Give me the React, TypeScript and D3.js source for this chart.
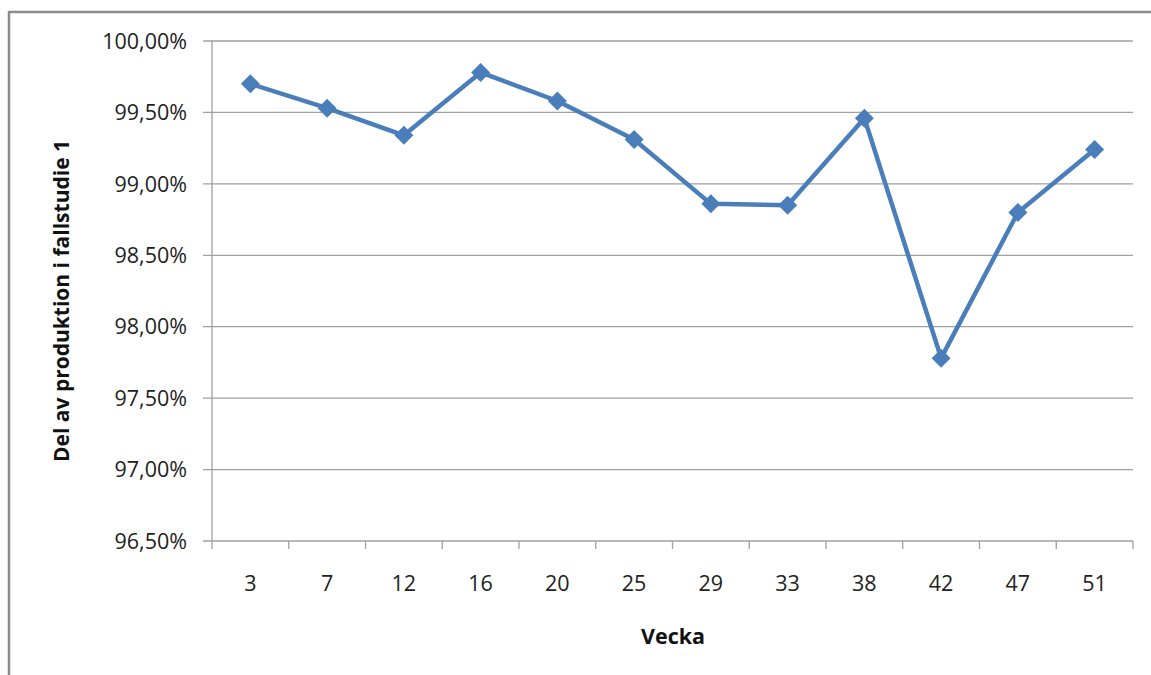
import React from "react";
import * as d3 from "d3";

const weeks = ["3", "7", "12", "16", "20", "25", "29", "33", "38", "42", "47", "51"];
const shares = [99.70, 99.53, 99.34, 99.78, 99.58, 99.31, 98.86, 98.85, 99.46, 97.78, 98.80, 99.24];
const yTicks = [96.5, 97.0, 97.5, 98.0, 98.5, 99.0, 99.5, 100.0];

const W = 1151, H = 675;
const left = 212, right = 1133, top = 41, bottom = 541;
const FONT = "'Open Sans', 'Noto Sans', sans-serif";

export default function App() {
  const x = d3.scaleBand<string>().domain(weeks).range([left, right]);
  const y = d3.scaleLinear().domain([96.5, 100]).range([bottom, top]);
  const line = d3.line<number>()
    .x((_, i) => (x(weeks[i]) as number) + x.bandwidth() / 2)
    .y((d) => y(d));
  const fmt = (v: number) => v.toFixed(2).replace(".", ",") + "%";
  const diamond = d3.symbol().type(d3.symbolDiamond2).size(230)();
  const tickXs = weeks.map((w) => x(w) as number).concat([right]);
  return (
    <svg width={W} height={H} style={{ position: "absolute", left: 0, top: 0 }}>
      <rect x={0} y={0} width={W} height={H} fill="#fff" />
      <path d={`M9,${H} L9,12 L${W},12`} fill="none" stroke="#8a8a8a" strokeWidth={2.5} />
      {yTicks.map((t) => (
        <g key={t}>
          <line x1={203} x2={right} y1={y(t)} y2={y(t)} stroke="#a0a0a0" strokeWidth={1.3} />
          <text x={187} y={y(t)} dy="0.36em" textAnchor="end" fontFamily={FONT} fontSize={21.5} fill="#222">
            {fmt(t)}
          </text>
        </g>
      ))}
      <line x1={left} x2={left} y1={top} y2={bottom} stroke="#a0a0a0" strokeWidth={1.3} />
      {tickXs.map((tx, i) => (
        <line key={i} x1={tx} x2={tx} y1={bottom} y2={bottom + 8} stroke="#a0a0a0" strokeWidth={1.3} />
      ))}
      {weeks.map((w) => (
        <text key={w} x={(x(w) as number) + x.bandwidth() / 2} y={583} dy="0.36em" textAnchor="middle"
          fontFamily={FONT} fontSize={21.5} fill="#222">
          {w}
        </text>
      ))}
      <path d={line(shares) as string} fill="none" stroke="#4a7ebb" strokeWidth={4.5} strokeLinejoin="round" />
      {shares.map((v, i) => (
        <path key={i} d={diamond as string}
          transform={`translate(${(x(weeks[i]) as number) + x.bandwidth() / 2},${y(v)})`}
          fill="#4a7ebb" />
      ))}
      <text x={673} y={636} dy="0.36em" textAnchor="middle" fontFamily={FONT} fontSize={21.5} fontWeight="bold" fill="#111">
        Vecka
      </text>
      <text transform={`translate(61,${(top + bottom) / 2 + 10}) rotate(-90)`} dy="0.36em" textAnchor="middle"
        fontFamily={FONT} fontSize={21} fontWeight="bold" fill="#111">
        Del av produktion i fallstudie 1
      </text>
    </svg>
  );
}
